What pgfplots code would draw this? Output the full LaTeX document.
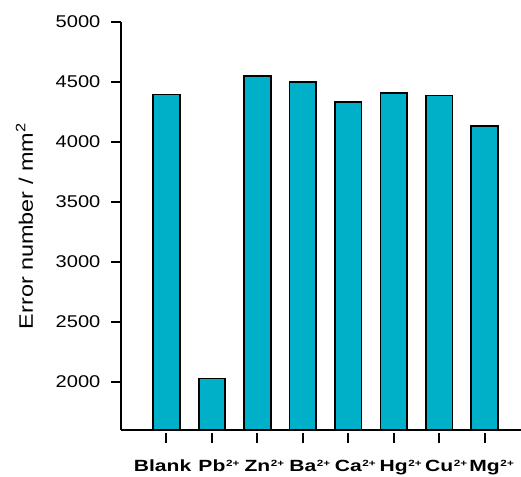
\documentclass[border=0pt]{standalone}
\usepackage{fontspec}
\setmainfont{Liberation Sans}
\usepackage{pgfplots}
\pgfplotsset{compat=1.18}
\definecolor{barcol}{RGB}{0,176,200}
\newcommand{\ion}[1]{#1\rlap{\hspace{0.5pt}\raisebox{5pt}{\fontsize{9}{9}\selectfont 2+}}}
\begin{document}
\begin{tikzpicture}[x=1pt,y=1pt]
\useasboundingbox (0,0) rectangle (521,476);
\begin{axis}[
  at={(121pt,46pt)}, anchor=south west,
  scale only axis, width=400pt, height=408pt,
  xmin=-1, xmax=7.8, ymin=1600, ymax=5000,
  axis lines=left,
  axis line style={line width=1.8pt, -},
  tick style={black, line width=1.8pt},
  tick align=outside,
  major tick length=10pt,
  xtick={0,...,7},
  xticklabels={\hspace*{-6pt}Blank,\ion{Pb},\ion{Zn},\ion{Ba},\ion{Ca},\ion{Hg},\ion{Cu},\ion{Mg}},
  x tick style={black, line width=2pt, yshift=-3pt},
  xticklabel style={font=\bfseries\fontsize{16.2}{16.2}\selectfont, xscale=1.3, anchor=base, yshift=-31.2pt},
  ytick={2000,2500,...,5000},
  yticklabel style={font=\fontsize{17}{17}\selectfont, xscale=1.18, xshift=-5.5pt},
  /pgf/number format/assume math mode=true,
  /pgf/number format/set thousands separator={},
  ylabel={Error number / mm\textsuperscript{2}},
  every axis y label/.style={at={(axis description cs:0,0.5)}, rotate=90, xscale=1.2, anchor=base, yshift=88pt, font=\fontsize{19.5}{19.5}\selectfont},
  clip=false,
]
\addplot[ybar, bar width=26.5pt, fill=barcol, draw=black, line width=1.8pt]
  coordinates {(0,4395) (1,2030) (2,4550) (3,4500) (4,4332) (5,4405) (6,4388) (7,4135)};
\end{axis}
\end{tikzpicture}
\end{document}
